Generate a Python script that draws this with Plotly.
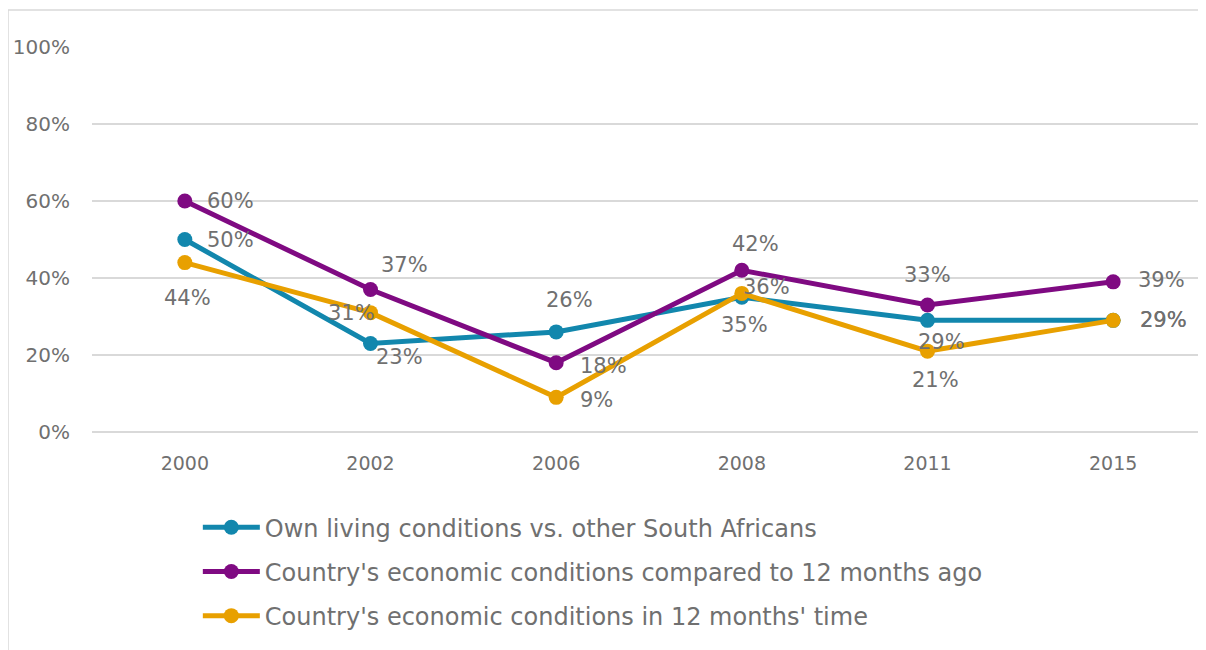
import plotly.graph_objects as go

years = ["2000", "2002", "2006", "2008", "2011", "2015"]

own_living = [0.50, 0.23, 0.26, 0.35, 0.29, 0.29]
econ_past = [0.60, 0.37, 0.18, 0.42, 0.33, 0.39]
econ_future = [0.44, 0.31, 0.09, 0.36, 0.21, 0.29]

names = [
    "Own living conditions vs. other South Africans",
    "Country's economic conditions compared to 12 months ago",
    "Country's economic conditions in 12 months' time",
]
colors = ["#1287ad", "#7f0a82", "#e8a000"]

# pixel offsets (dx, dy up) of each data label from its point
label_shift = [
    [(46, 0), (29, -14), (13, 32), (3, -28), (14, -22), (50, 0)],
    [(46, 0), (34, 25), (47, -3), (14, 26), (0, 30), (48, 2)],
    [(3, -35), (-19, 0), (40, -3), (25, 6), (8, -29), (50, 0)],
]

grey = "#707070"
font_family = "'DejaVu Sans', sans-serif"

fig = go.Figure()
for vals, name, col, shifts in zip([own_living, econ_past, econ_future], names, colors, label_shift):
    fig.add_trace(go.Scatter(
        x=years, y=vals, name=name, mode="lines+markers",
        line=dict(color=col, width=5),
        marker=dict(color=col, size=15),
        legendgroup=name,
        cliponaxis=False,
    ))
    # category index as x, since "2000" etc. would be read as numbers
    for i, (v, (dx, dy)) in enumerate(zip(vals, shifts)):
        fig.add_annotation(
            x=i, y=v, text=f"{round(v * 100)}%", showarrow=False,
            xshift=dx, yshift=dy,
            font=dict(size=21, color=grey, family=font_family),
        )

# page body has an 8px margin, so the figure is shifted by 8px
fig.update_layout(
    width=1198, height=642,
    paper_bgcolor="white", plot_bgcolor="white",
    margin=dict(l=84, r=0, t=39, b=218),
    font=dict(family=font_family, color=grey),
    showlegend=True,
    legend=dict(
        orientation="v", x=0.095, y=-0.19, xanchor="left", yanchor="top",
        font=dict(size=24, color=grey, family=font_family),
        tracegroupgap=10, itemwidth=57, bgcolor="rgba(0,0,0,0)",
    ),
    xaxis=dict(
        type="category", range=[-0.5, 5.5], showgrid=False,
        showline=False, ticks="", tickfont=dict(size=19, color=grey),
        ticklabelstandoff=18,
    ),
    yaxis=dict(
        range=[0, 1], tickvals=[0, 0.2, 0.4, 0.6, 0.8, 1.0], tickformat=".0%",
        showgrid=True, gridcolor="#d9d9d9", gridwidth=1.5,
        zeroline=True, zerolinecolor="#d9d9d9", zerolinewidth=1.5,
        showline=False, ticks="", tickfont=dict(size=20, color=grey),
        ticklabelstandoff=21,
    ),
)

# faint chart frame
fig.add_shape(type="rect", xref="paper", yref="paper",
              x0=-0.0754, x1=1.2, y0=-0.6, y1=1.096,
              line=dict(color="#d9d9d9", width=1.5), layer="below")

fig.write_html("out.html")
